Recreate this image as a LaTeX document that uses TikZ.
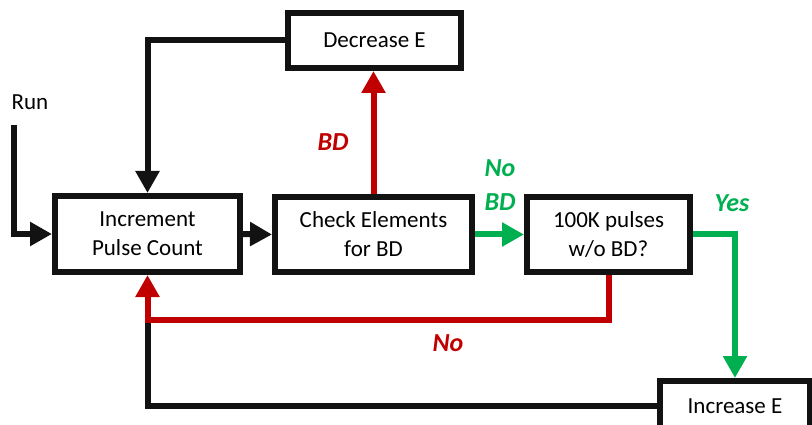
\documentclass[tikz,border=0pt]{standalone}
\usepackage{fontspec}
\setmainfont{Carlito}
\usepackage{tikz}
\usetikzlibrary{arrows.meta, positioning, calc}
\definecolor{bdred}{HTML}{C00000}
\definecolor{okgreen}{HTML}{00B050}

\begin{document}
\begin{tikzpicture}[x=1pt, y=1pt,
  font=\fontsize{23}{29}\selectfont,
  blk/.style={rectangle, draw=black!93, line width=6pt, fill=white, align=center,
              inner sep=0pt},
  ar/.style={-{Triangle[length=22pt, width=23pt]}, line width=6pt},
  lbl/.style={font=\fontsize{26}{34}\selectfont\bfseries\itshape, align=center}]
\useasboundingbox (0,0) rectangle (812,-425);
\node[blk, minimum width=185pt, minimum height=76pt] (inc) at (147.5,-234) {Increment\\Pulse Count};
\node[blk, minimum width=197pt, minimum height=75pt] (chk) at (373.5,-234.5) {Check Elements\\for BD};
\node[blk, minimum width=173pt, minimum height=55pt] (dec) at (374.5,-40.5) {Decrease E};
\node[blk, minimum width=163pt, minimum height=75pt] (pul) at (608.5,-234.5) {100K pulses\\w/o BD?};
\node[blk, minimum width=150pt, minimum height=50pt] (ince) at (735,-406) {Increase E};
\node (run) at (30,-102) {Run};
\coordinate (start) at (14,-125);
\coordinate (loop) at (147.5,-320);
% black flow
\draw[ar, black!93] (start) |- (inc.west);
\draw[ar, black!93] (dec.west) -| (inc.north);
\draw[ar, black!93] (inc.east) -- (chk.west);
\draw[line width=6pt, black!93] (ince.west) -| (loop);
% breakdown / no breakdown
\draw[ar, bdred] (chk.north) -- (chk.north |- dec.south);
\draw[ar, okgreen] (chk.east) -- (pul.west);
\draw[ar, okgreen] (pul.east) -| (ince.north);
\draw[ar, bdred] (pul.south) |- (loop) -- (inc.south);
\node[lbl, text=bdred] (bd) at (333,-142) {BD};
\node[lbl, text=okgreen] (nobd) at (500,-185) {No\\BD};
\node[lbl, text=okgreen] (yes) at (732,-203) {Yes};
\node[lbl, text=bdred] (no) at (448,-343) {No};
\end{tikzpicture}
\end{document}
